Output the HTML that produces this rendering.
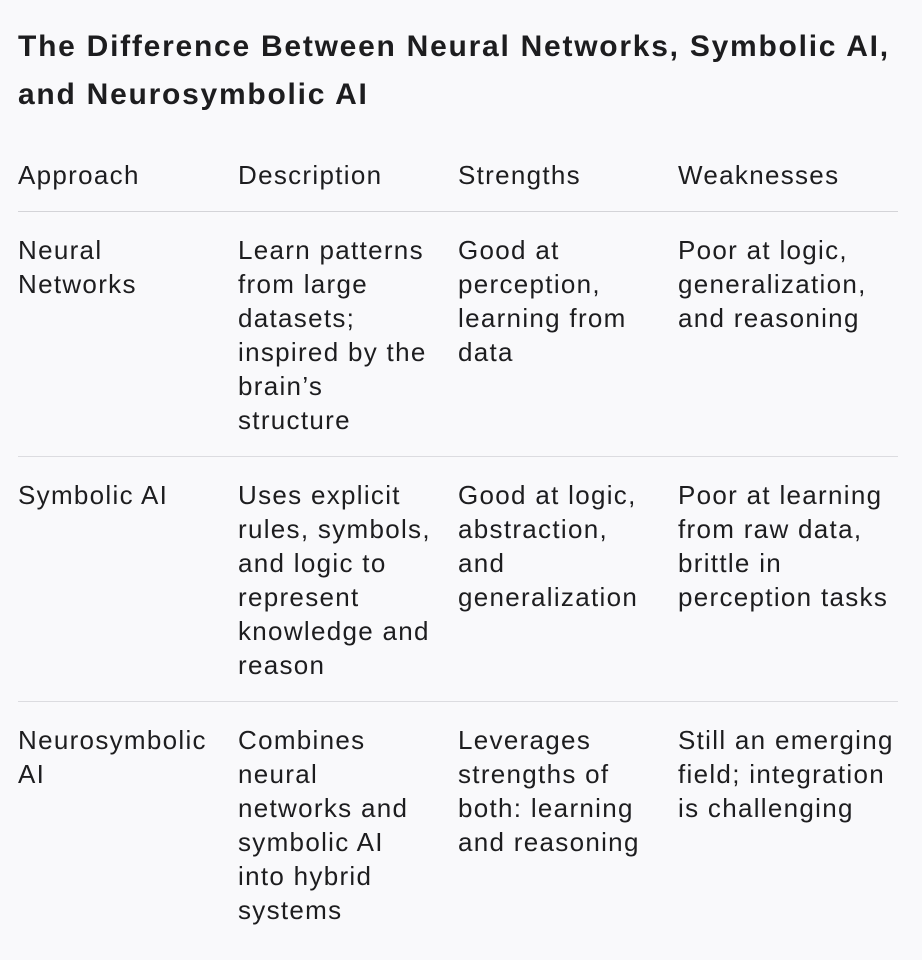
<!DOCTYPE html>
<html><head><meta charset="utf-8"><style>
html,body{margin:0;padding:0;background:#f9f9fb;}
body{width:922px;height:960px;overflow:hidden;font-family:"Liberation Sans",sans-serif;color:#1d1d1f;}
h1{margin:0;position:absolute;left:18px;top:23px;font-size:30px;line-height:48px;font-weight:bold;width:900px;letter-spacing:1.75px;white-space:nowrap;}
table{position:absolute;left:18px;top:156px;border-collapse:collapse;width:880px;table-layout:fixed;font-size:26px;line-height:34px;letter-spacing:1.3px;}
td,th{width:220px;vertical-align:top;text-align:left;padding:0;white-space:nowrap;}
th{font-weight:normal;padding:2px 0 19px 0;border-bottom:1.5px solid #d4d4d8;}
td{padding:21px 0 19px 0;}
tr.r td{border-bottom:1px solid #dcdce0;}
</style></head><body>
<h1>The Difference Between Neural Networks, Symbolic AI,<br>and Neurosymbolic AI</h1>
<table>
<tr><th>Approach</th><th>Description</th><th>Strengths</th><th>Weaknesses</th></tr>
<tr class="r"><td>Neural<br>Networks</td><td>Learn patterns<br>from large<br>datasets;<br>inspired by the<br>brain’s<br>structure</td><td>Good at<br>perception,<br>learning from<br>data</td><td>Poor at logic,<br>generalization,<br>and reasoning</td></tr>
<tr class="r"><td>Symbolic AI</td><td>Uses explicit<br>rules, symbols,<br>and logic to<br>represent<br>knowledge and<br>reason</td><td>Good at logic,<br>abstraction,<br>and<br>generalization</td><td>Poor at learning<br>from raw data,<br>brittle in<br>perception tasks</td></tr>
<tr><td>Neurosymbolic<br>AI</td><td>Combines<br>neural<br>networks and<br>symbolic AI<br>into hybrid<br>systems</td><td>Leverages<br>strengths of<br>both: learning<br>and reasoning</td><td>Still an emerging<br>field; integration<br>is challenging</td></tr>
</table>
</body></html>
